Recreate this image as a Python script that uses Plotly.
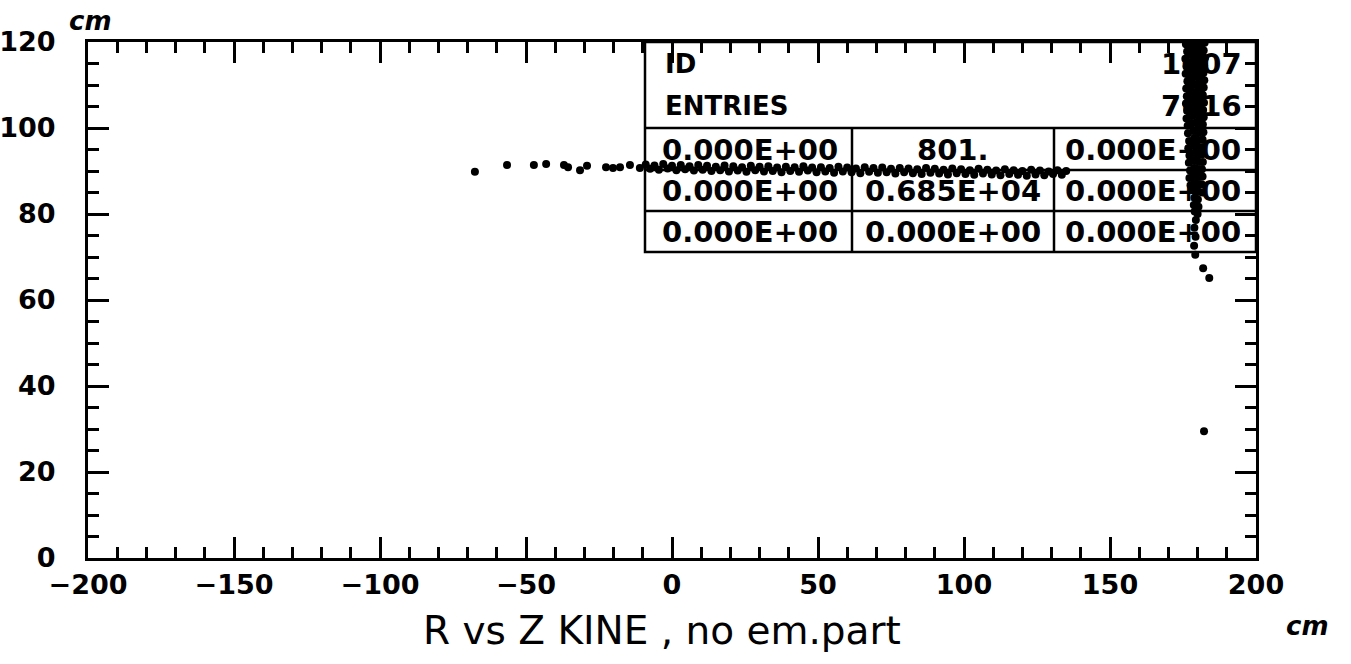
import plotly.graph_objects as go

# ---------------- data (Z in cm, R in cm) ----------------
# sparse tail of the horizontal band (left side)
TAIL_Z = [-67.5, -56.5, -47.3, -43.1, -37.0, -35.6, -31.5, -29.1, -22.6, -20.2, -17.8, -14.4, -11.0]
TAIL_R = [89.8, 91.4, 91.4, 91.6, 91.4, 90.9, 90.2, 91.2, 90.9, 90.7, 90.9, 91.4, 90.7]

# dense horizontal band, upper row
BAND_UP = [(-9, 91.5), (-6, 91.3), (-3, 91.6), (0, 91.2), (3, 91.4), (6, 91.1), (9, 91.4), (12, 91.2),
           (15, 91.0), (18, 91.3), (21, 91.1), (24, 90.9), (27, 91.2), (30, 91.0), (33, 91.1), (36, 90.8),
           (39, 91.0), (42, 90.9), (45, 91.1), (48, 90.8), (51, 90.9), (54, 90.7), (57, 91.0), (60, 90.8),
           (63, 90.6), (66, 90.9), (69, 90.7), (72, 90.8), (75, 90.5), (78, 90.7), (81, 90.6), (84, 90.4),
           (87, 90.7), (90, 90.5), (93, 90.3), (96, 90.6), (99, 90.4), (102, 90.2), (105, 90.5), (108, 90.3),
           (111, 90.1), (114, 90.4), (117, 90.2), (120, 90.0), (123, 90.3), (126, 90.1), (129, 89.9),
           (132, 90.2), (135, 90.0)]
# dense horizontal band, lower row
BAND_LO = [(-7.5, 90.5), (-4.5, 90.3), (-1.5, 90.6), (1.5, 90.2), (4.5, 90.4), (7.5, 90.1), (10.5, 90.3),
           (13.5, 90.0), (16.5, 90.2), (19.5, 89.9), (22.5, 90.1), (25.5, 89.8), (28.5, 90.2), (31.5, 89.9),
           (34.5, 90.0), (37.5, 89.7), (40.5, 90.0), (43.5, 89.8), (46.5, 90.1), (49.5, 89.7), (52.5, 89.9),
           (55.5, 89.6), (58.5, 89.9), (61.5, 89.7), (64.5, 89.5), (67.5, 89.8), (70.5, 89.6), (73.5, 89.7),
           (76.5, 89.4), (79.5, 89.7), (82.5, 89.5), (85.5, 89.3), (88.5, 89.6), (91.5, 89.4), (94.5, 89.2),
           (97.5, 89.5), (100.5, 89.3), (103.5, 89.1), (106.5, 89.4), (109.5, 89.2), (112.5, 89.0),
           (115.5, 89.3), (118.5, 89.1), (121.5, 88.9), (124.5, 89.2), (127.5, 89.0), (130.5, 89.3),
           (133.5, 89.1)]

# vertical cluster near Z ~ 180 cm
VERT = [(176.0, 119.5), (176.4, 117.8), (175.8, 116.1), (176.2, 114.3), (175.9, 112.6), (176.5, 110.9),
        (176.1, 109.2), (176.3, 107.4), (176.0, 105.7), (176.4, 104.0), (176.2, 102.2), (176.6, 100.5),
        (176.7, 98.8), (177.1, 97.0), (176.8, 95.3), (177.2, 93.6), (177.0, 91.9), (177.4, 90.1),
        (177.2, 88.4), (177.6, 86.7),
        (178.2, 120.0), (178.0, 118.3), (178.3, 116.6), (178.0, 114.9), (178.4, 113.1), (178.1, 111.4),
        (177.9, 109.7), (178.2, 108.0), (178.0, 106.2), (178.3, 104.5), (178.0, 102.8), (178.2, 101.1),
        (178.5, 99.3), (178.8, 97.6), (178.4, 95.9), (178.7, 94.2), (178.5, 92.4), (178.8, 90.7),
        (178.6, 89.0), (178.9, 87.3), (178.6, 85.5), (178.9, 83.8), (178.7, 82.1), (179.0, 80.6),
        (179.4, 119.0), (179.3, 117.2), (179.5, 115.4), (179.2, 113.7), (179.4, 111.9), (179.3, 110.1),
        (179.5, 108.4), (179.2, 106.6), (179.4, 104.8), (179.3, 103.0), (179.5, 101.3), (179.2, 99.5),
        (179.4, 97.7), (179.6, 95.9), (179.3, 94.2), (179.5, 92.4), (179.4, 90.6), (179.6, 88.8),
        (179.3, 87.1), (179.5, 85.3), (179.4, 83.6),
        (177.2, 119.0), (177.0, 117.1), (177.3, 115.2), (177.1, 113.5), (177.2, 111.7), (177.0, 109.9),
        (177.3, 108.2), (177.1, 106.4), (177.2, 104.6), (177.4, 102.9), (177.3, 101.1),
        (180.4, 119.6), (180.7, 117.9), (180.3, 116.2), (180.6, 114.5), (180.4, 112.8), (180.8, 111.0),
        (180.5, 109.3), (180.3, 107.6), (180.7, 105.9), (180.5, 104.1), (180.8, 102.4), (180.4, 100.7),
        (180.6, 99.0), (180.3, 97.2), (180.7, 95.5), (180.4, 93.8), (180.6, 92.1), (180.3, 90.3),
        (180.5, 88.6), (180.2, 86.9), (180.4, 85.2), (180.1, 83.4), (180.3, 81.7), (180.0, 80.0),
        (181.3, 118.8), (181.5, 117.0), (181.2, 115.3), (181.4, 113.6), (181.2, 111.9), (181.5, 110.2),
        (181.1, 108.5), (181.3, 106.8), (181.0, 105.1), (181.2, 103.4), (181.0, 101.7), (181.1, 99.9),
        (182.4, 119.8), (182.1, 118.0), (182.5, 116.3), (182.2, 114.6), (182.0, 112.8), (182.3, 111.1),
        (182.1, 109.4), (181.8, 107.7), (182.2, 105.9), (181.9, 104.2), (182.1, 102.5), (181.8, 100.8),
        (182.0, 99.0), (181.7, 97.3), (181.9, 95.6), (181.6, 93.9), (181.8, 92.1), (181.5, 90.4),
        (181.7, 88.7), (181.4, 86.9), (181.6, 85.0)]
# sparse tail below the vertical cluster
VTAIL_Z = [179.4, 178.9, 179.3, 178.8, 179.2, 181.9, 184.0, 182.2]
VTAIL_R = [78.6, 76.8, 74.7, 72.6, 70.5, 67.4, 65.1, 29.5]

# statistics box text
STAT_ID = "1007"
STAT_ENTRIES = "7616"
STAT_ROWS = [["0.000E+00", "801.", "0.000E+00"],
             ["0.000E+00", "0.685E+04", "0.000E+00"],
             ["0.000E+00", "0.000E+00", "0.000E+00"]]

X_TICKS = [-200, -150, -100, -50, 0, 50, 100, 150, 200]
Y_TICKS = [0, 20, 40, 60, 80, 100, 120]
X_TITLE = "R vs Z KINE , no em.part"

# ---------------- figure ----------------
W, H = 1351, 664
L, R, T, B = 88, 95, 42, 106
PW, PH = W - L - R, H - T - B


def px_x(p):
    return (p - L) / PW


def px_y(p):
    return (H - B - p) / PH


all_z = TAIL_Z + [p[0] for p in BAND_UP] + [p[0] for p in BAND_LO] + [p[0] for p in VERT] + VTAIL_Z
all_r = TAIL_R + [p[1] for p in BAND_UP] + [p[1] for p in BAND_LO] + [p[1] for p in VERT] + VTAIL_R

fig = go.Figure()
fig.add_trace(go.Scatter(x=all_z, y=all_r, mode="markers",
                         marker=dict(color="black", size=8, line=dict(width=0)),
                         showlegend=False, hoverinfo="skip"))

FONT = "DejaVu Sans"
axis_common = dict(ticks="inside", ticklen=21, tickwidth=2.5, tickcolor="black",
                   showline=True, linecolor="black", linewidth=3, mirror="allticks",
                   showgrid=False, zeroline=False, automargin=False,
                   tickfont=dict(family=FONT, size=27, color="black", weight="bold"))

fig.update_xaxes(range=[-200, 200], tickmode="array", tickvals=X_TICKS,
                 minor=dict(dtick=10, ticks="inside", ticklen=11, tickwidth=2.5, tickcolor="black"),
                 ticklabelstandoff=1, **axis_common)
fig.update_yaxes(range=[0, 120], tickmode="array", tickvals=Y_TICKS,
                 minor=dict(dtick=5, ticks="inside", ticklen=11, tickwidth=2.5, tickcolor="black"),
                 ticklabelstandoff=24, **axis_common)

shapes = []
lw = 2.5
box_l, box_r, box_t, box_b = 645, 1256, 42, 252
shapes.append(dict(type="rect", xref="paper", yref="paper", x0=px_x(box_l), x1=px_x(box_r),
                   y0=px_y(box_b), y1=px_y(box_t), line=dict(color="black", width=lw), layer="below"))
for yy in [128, 170, 211]:
    shapes.append(dict(type="line", xref="paper", yref="paper", x0=px_x(box_l), x1=px_x(box_r),
                       y0=px_y(yy), y1=px_y(yy), line=dict(color="black", width=lw), layer="below"))
for xx in [852, 1054]:
    shapes.append(dict(type="line", xref="paper", yref="paper", x0=px_x(xx), x1=px_x(xx),
                       y0=px_y(128), y1=px_y(box_b), line=dict(color="black", width=lw), layer="below"))

ann = []
num_font = dict(family=FONT, size=29, color="black", weight="bold")
lbl_font = dict(family=FONT, size=26, color="black", weight="bold")


def add_text(text, xp, yp, anchor, font):
    ann.append(dict(text=text, xref="paper", yref="paper", x=px_x(xp), y=px_y(yp),
                    xanchor=anchor, yanchor="middle", showarrow=False, font=font))


add_text("ID", 663, 64, "left", lbl_font)
add_text("ENTRIES", 663, 106, "left", lbl_font)
add_text(STAT_ID, 1244, 64, "right", num_font)
add_text(STAT_ENTRIES, 1244, 106, "right", num_font)
row_y = [150, 191, 232]
col_x = [750, 953, 1153]
for i, row in enumerate(STAT_ROWS):
    for j, txt in enumerate(row):
        add_text(txt, col_x[j], row_y[i], "center", num_font)

add_text(X_TITLE, 662, 630, "center", dict(family=FONT, size=39, color="black"))
cm_font = dict(family=FONT, size=26, color="black", weight="bold", style="italic")
add_text("cm", 90, 21, "center", cm_font)
add_text("cm", 1307, 626, "center", cm_font)

fig.update_layout(width=W, height=H, margin=dict(l=L, r=R, t=T, b=B, pad=0),
                  paper_bgcolor="white", plot_bgcolor="white",
                  shapes=shapes, annotations=ann, showlegend=False)

fig.write_html("out.html")
